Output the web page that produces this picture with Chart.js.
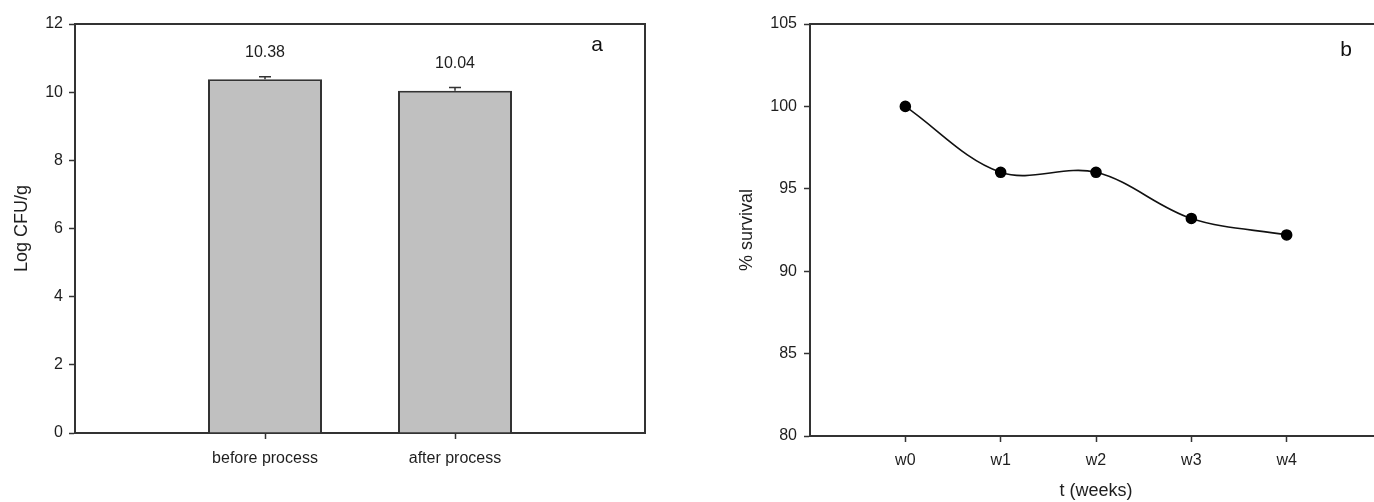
<!DOCTYPE html>
<html><head><meta charset="utf-8">
<script src="https://cdn.jsdelivr.net/npm/chart.js@4.4.0/dist/chart.umd.min.js"></script>
<style>
html,body{margin:0;padding:0;background:#fff;overflow:hidden;}
#wrap{position:relative;width:1374px;height:502px;overflow:hidden;background:#fff;}
#c1{position:absolute;left:0;top:0;}
#c2{position:absolute;left:700px;top:0;}
</style></head><body>
<div id="wrap"><canvas id="c1" width="700" height="502"></canvas><canvas id="c2" width="700" height="502"></canvas></div>
<script>
// ---- data ----
const barCategories = ['', 'before process', 'after process', ''];
const barValues = [null, 10.38, 10.04, null];
const barErrors = [null, 0.07, 0.10, null];
const barYTicks = [0, 2, 4, 6, 8, 10, 12];
const barYTitle = 'Log CFU/g';
const barPanelLetter = 'a';

const weekCategories = ['', 'w0', 'w1', 'w2', 'w3', 'w4', ''];
const survivalValues = [null, 100, 96, 96, 93.2, 92.2, null];
const survivalYTicks = [80, 85, 90, 95, 100, 105];
const survivalYTitle = '% survival';
const survivalXTitle = 't (weeks)';
const survivalPanelLetter = 'b';

// ---- style ----
const FONT = '"Liberation Sans", Arial, sans-serif';
const AX = '#333333';
const TXT = '#1e1e1e';
Chart.defaults.font.family = FONT;
Chart.defaults.color = TXT;
Chart.defaults.animation = false;

const framePlugin = {
  id: 'frame',
  afterDraw(chart) {
    const {ctx, chartArea: a} = chart;
    ctx.save();
    ctx.strokeStyle = AX; ctx.lineWidth = 2;
    ctx.beginPath();
    ctx.moveTo(a.left, a.top); ctx.lineTo(a.right, a.top); ctx.lineTo(a.right, a.bottom);
    ctx.stroke();
    const o = chart.options.plugins.frame || {};
    if (o.letter) {
      ctx.fillStyle = '#111';
      ctx.font = '21px ' + FONT;
      ctx.textAlign = 'center'; ctx.textBaseline = 'middle';
      ctx.fillText(o.letter, a.right - o.dx, a.top + o.dy);
    }
    ctx.restore();
  }
};

const errorPlugin = {
  id: 'errbars',
  afterDatasetsDraw(chart) {
    const {ctx} = chart;
    const meta = chart.getDatasetMeta(0);
    const y = chart.scales.y;
    ctx.save();
    ctx.strokeStyle = AX; ctx.lineWidth = 1.5;
    ctx.fillStyle = TXT;
    ctx.font = '16px ' + FONT;
    ctx.textAlign = 'center'; ctx.textBaseline = 'middle';
    barValues.forEach((v, i) => {
      if (v === null) return;
      const x = meta.data[i].x;
      const yv = y.getPixelForValue(v);
      const ye = y.getPixelForValue(v + barErrors[i]);
      ctx.beginPath();
      ctx.moveTo(x, yv); ctx.lineTo(x, ye);
      ctx.moveTo(x - 6, ye); ctx.lineTo(x + 6, ye);
      ctx.stroke();
      ctx.fillText(v.toFixed(2), x, ye - 24);
    });
    ctx.restore();
  }
};

function fixedTicks(arr) {
  return function(scale) { scale.ticks = arr.map(v => ({value: v})); };
}
function hideEmptyTick(cats) {
  return ctx => (cats[ctx.index] === '' ? 'rgba(0,0,0,0)' : AX);
}

// ---- chart a ----
new Chart(document.getElementById('c1'), {
  type: 'bar',
  data: {
    labels: barCategories,
    datasets: [{
      data: barValues,
      backgroundColor: '#c0c0c0',
      borderColor: AX,
      borderWidth: 2,
      categoryPercentage: 1,
      barPercentage: 0.6
    }]
  },
  options: {
    responsive: false,
    layout: {padding: {top: 24, right: 55, left: 0, bottom: 0}},
    plugins: {legend: {display: false}, tooltip: {enabled: false},
      frame: {letter: barPanelLetter, dx: 48, dy: 21}},
    scales: {
      x: {
        type: 'category', offset: false,
        grid: {offset: false, drawOnChartArea: false, drawTicks: true, tickLength: 6, tickWidth: 1.5,
          tickColor: hideEmptyTick(barCategories)},
        border: {color: AX, width: 2},
        ticks: {autoSkip: false, maxRotation: 0, padding: 10, color: TXT, font: {size: 16}},
        afterFit(s) { s.height = 69; }
      },
      y: {
        min: barYTicks[0], max: barYTicks[barYTicks.length - 1],
        afterBuildTicks: fixedTicks(barYTicks),
        grid: {drawOnChartArea: false, drawTicks: true, tickLength: 6, tickWidth: 1.5, tickColor: AX},
        border: {color: AX, width: 2},
        ticks: {padding: 6, color: TXT, font: {size: 16}},
        title: {display: true, text: barYTitle, color: TXT, font: {size: 18}, padding: {top: 11, bottom: 0}},
        afterFit(s) { s.width = 75; }
      }
    }
  },
  plugins: [framePlugin, errorPlugin]
});

// ---- chart b ----
new Chart(document.getElementById('c2'), {
  type: 'line',
  data: {
    labels: weekCategories,
    datasets: [{
      data: survivalValues,
      borderColor: '#111',
      borderWidth: 1.6,
      tension: 0.35,
      pointRadius: 5,
      pointBackgroundColor: '#000',
      pointBorderColor: '#000',
      fill: false
    }]
  },
  options: {
    responsive: false,
    layout: {padding: {top: 24, right: 18, left: 0, bottom: 0}},
    plugins: {legend: {display: false}, tooltip: {enabled: false},
      frame: {letter: survivalPanelLetter, dx: 36, dy: 26}},
    scales: {
      x: {
        type: 'category', offset: false,
        grid: {offset: false, drawOnChartArea: false, drawTicks: true, tickLength: 6, tickWidth: 1.5,
          tickColor: hideEmptyTick(weekCategories)},
        border: {color: AX, width: 2},
        ticks: {autoSkip: false, maxRotation: 0, padding: 9, color: TXT, font: {size: 16}},
        title: {display: true, text: survivalXTitle, color: TXT, font: {size: 18}, padding: {top: 0, bottom: 0}},
        afterFit(s) { s.height = 66; }
      },
      y: {
        min: survivalYTicks[0], max: survivalYTicks[survivalYTicks.length - 1],
        afterBuildTicks: fixedTicks(survivalYTicks),
        grid: {drawOnChartArea: false, drawTicks: true, tickLength: 6, tickWidth: 1.5, tickColor: AX},
        border: {color: AX, width: 2},
        ticks: {padding: 7, color: TXT, font: {size: 16}},
        title: {display: true, text: survivalYTitle, color: TXT, font: {size: 18}, padding: {top: 36, bottom: 0}},
        afterFit(s) { s.width = 110; }
      }
    }
  },
  plugins: [framePlugin]
});
</script>
</body></html>
